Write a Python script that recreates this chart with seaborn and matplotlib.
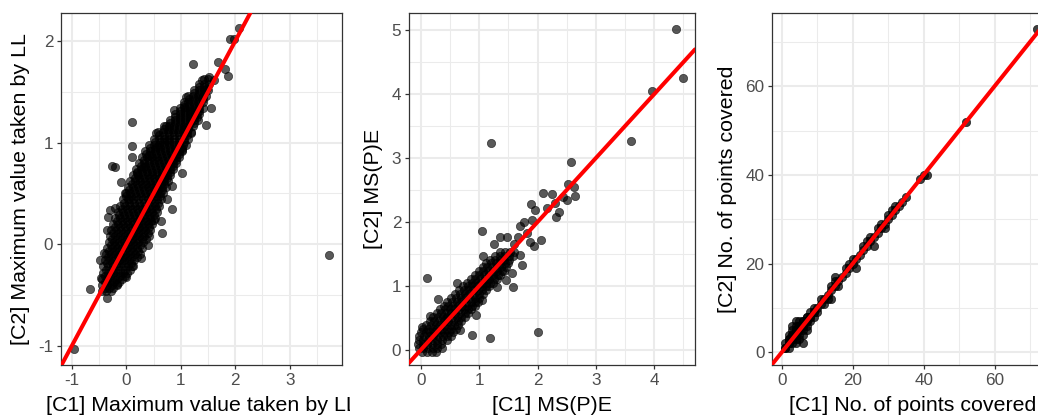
import matplotlib
matplotlib.use("Agg")
import matplotlib.pyplot as plt
import seaborn as sns
import pandas as pd
from matplotlib.transforms import Bbox, TransformedBbox

# ---------------- data ----------------
# Panel 1: maximum value taken by LL, C1 (x) vs C2 (y)
maxll_c1 = [
    # dense core, row by row
    -0.45, -0.37, -0.29,
    -0.45, -0.36, -0.27, -0.18,
    -0.44, -0.35, -0.26, -0.17, -0.08,
    -0.43, -0.34, -0.25, -0.16, -0.07, 0.02,
    -0.42, -0.33, -0.24, -0.15, -0.06, 0.03, 0.12,
    -0.40, -0.31, -0.22, -0.13, -0.04, 0.05, 0.14,
    -0.38, -0.29, -0.20, -0.11, -0.02, 0.07, 0.16, 0.25,
    -0.35, -0.26, -0.17, -0.08, 0.01, 0.10, 0.19, 0.28,
    -0.32, -0.23, -0.14, -0.05, 0.04, 0.13, 0.22, 0.31,
    -0.30, -0.21, -0.12, -0.03, 0.06, 0.15, 0.24, 0.33, 0.41,
    -0.28, -0.19, -0.10, -0.01, 0.08, 0.17, 0.26, 0.35, 0.44,
    -0.24, -0.15, -0.06, 0.03, 0.12, 0.21, 0.30, 0.39, 0.48,
    -0.20, -0.11, -0.02, 0.07, 0.16, 0.25, 0.34, 0.43, 0.52,
    -0.15, -0.06, 0.03, 0.12, 0.21, 0.30, 0.39, 0.48, 0.56,
    -0.11, -0.02, 0.07, 0.16, 0.25, 0.34, 0.43, 0.52, 0.60,
    -0.06, 0.03, 0.12, 0.21, 0.30, 0.39, 0.48, 0.57, 0.64,
    -0.02, 0.07, 0.16, 0.25, 0.34, 0.43, 0.52, 0.61, 0.68,
    0.03, 0.12, 0.21, 0.30, 0.39, 0.48, 0.57, 0.65, 0.72,
    0.07, 0.16, 0.25, 0.34, 0.43, 0.52, 0.61, 0.69, 0.76,
    0.12, 0.21, 0.30, 0.39, 0.48, 0.57, 0.66, 0.74, 0.80,
    0.18, 0.27, 0.36, 0.45, 0.54, 0.63, 0.72, 0.80, 0.86,
    0.24, 0.33, 0.42, 0.51, 0.60, 0.69, 0.78, 0.86, 0.92,
    0.29, 0.38, 0.47, 0.56, 0.65, 0.74, 0.83, 0.91, 0.97,
    0.35, 0.44, 0.53, 0.62, 0.71, 0.80, 0.89, 0.97, 1.03,
    0.42, 0.51, 0.60, 0.69, 0.78, 0.87, 0.96, 1.04, 1.09,
    0.51, 0.60, 0.69, 0.78, 0.87, 0.96, 1.05, 1.13,
    0.59, 0.68, 0.77, 0.86, 0.95, 1.04, 1.12, 1.19,
    0.69, 0.78, 0.87, 0.96, 1.05, 1.14, 1.22,
    0.80, 0.89, 0.98, 1.07, 1.16, 1.25, 1.32,
    0.89, 0.98, 1.07, 1.16, 1.25, 1.34,
    0.98, 1.07, 1.16, 1.25, 1.34, 1.41,
    1.05, 1.14, 1.23, 1.32, 1.41,
    1.14, 1.23, 1.32, 1.41, 1.47,
    1.24, 1.33, 1.42, 1.50,
    1.34, 1.43, 1.51,
    1.42, 1.50,
    # dense core, in-between rows
    -0.40, -0.32, -0.24,
    -0.40, -0.31, -0.22, -0.13,
    -0.39, -0.30, -0.21, -0.12, -0.03,
    -0.38, -0.29, -0.20, -0.11, -0.02, 0.07,
    -0.36, -0.27, -0.18, -0.09, 0.00, 0.09,
    -0.34, -0.25, -0.16, -0.07, 0.02, 0.11, 0.19,
    -0.32, -0.23, -0.14, -0.05, 0.04, 0.13, 0.22,
    -0.29, -0.20, -0.11, -0.02, 0.07, 0.16, 0.25,
    -0.26, -0.17, -0.08, 0.01, 0.10, 0.19, 0.28, 0.36,
    -0.24, -0.15, -0.06, 0.03, 0.12, 0.21, 0.30, 0.39,
    -0.21, -0.12, -0.03, 0.06, 0.15, 0.24, 0.33, 0.42,
    -0.17, -0.08, 0.01, 0.10, 0.19, 0.28, 0.37, 0.46,
    -0.13, -0.04, 0.05, 0.14, 0.23, 0.32, 0.41, 0.50,
    -0.08, 0.01, 0.10, 0.19, 0.28, 0.37, 0.46, 0.54,
    -0.04, 0.05, 0.14, 0.23, 0.32, 0.41, 0.50, 0.58,
    0.00, 0.09, 0.18, 0.27, 0.36, 0.45, 0.54, 0.62,
    0.05, 0.14, 0.23, 0.32, 0.41, 0.50, 0.59, 0.66,
    0.10, 0.19, 0.28, 0.37, 0.46, 0.55, 0.64, 0.70,
    0.15, 0.24, 0.33, 0.42, 0.51, 0.60, 0.69, 0.75,
    0.20, 0.29, 0.38, 0.47, 0.56, 0.65, 0.74, 0.80,
    0.26, 0.35, 0.44, 0.53, 0.62, 0.71, 0.80, 0.86,
    0.32, 0.41, 0.50, 0.59, 0.68, 0.77, 0.86, 0.91,
    0.37, 0.46, 0.55, 0.64, 0.73, 0.82, 0.91, 0.97,
    0.44, 0.53, 0.62, 0.71, 0.80, 0.89, 0.98, 1.03,
    0.52, 0.61, 0.70, 0.79, 0.88, 0.97, 1.06,
    0.60, 0.69, 0.78, 0.87, 0.96, 1.05, 1.12,
    0.69, 0.78, 0.87, 0.96, 1.05, 1.14,
    0.80, 0.89, 0.98, 1.07, 1.16, 1.24,
    0.89, 0.98, 1.07, 1.16, 1.25, 1.30,
    0.98, 1.07, 1.16, 1.25, 1.34,
    1.06, 1.15, 1.24, 1.33,
    1.15, 1.24, 1.33, 1.40,
    1.24, 1.33, 1.42,
    1.34, 1.43,
    # scattered points
    3.73, -0.96, -0.66, -0.35, -0.17, -0.47, -0.48, -0.41, -0.34, -0.35,
    -0.30, -0.20, -0.09, -0.01, -0.26, -0.21, 0.10, 0.11, 0.41, 0.54,
    0.72, 0.87, 1.05, 1.10, 1.23, 1.39, 1.47, 1.55, 1.68, 1.82,
    1.87, 1.91, 1.97, 2.07, 1.61, 1.52, 1.49, 1.39, 1.30, 1.18,
    1.03, 1.03, 0.84, 0.75, 0.64, 0.65, 0.83, 0.51, 0.39, 0.26,
    0.11, 0.00, 0.32, 0.20, 0.11, 0.05, 0.57, 0.75,
]
maxll_c2 = [
    -0.46, -0.46, -0.46,
    -0.40, -0.40, -0.40, -0.40,
    -0.34, -0.34, -0.34, -0.34, -0.34,
    -0.28, -0.28, -0.28, -0.28, -0.28, -0.28,
    -0.22, -0.22, -0.22, -0.22, -0.22, -0.22, -0.22,
    -0.16, -0.16, -0.16, -0.16, -0.16, -0.16, -0.16,
    -0.10, -0.10, -0.10, -0.10, -0.10, -0.10, -0.10, -0.10,
    -0.04, -0.04, -0.04, -0.04, -0.04, -0.04, -0.04, -0.04,
    0.02, 0.02, 0.02, 0.02, 0.02, 0.02, 0.02, 0.02,
    0.08, 0.08, 0.08, 0.08, 0.08, 0.08, 0.08, 0.08, 0.08,
    0.14, 0.14, 0.14, 0.14, 0.14, 0.14, 0.14, 0.14, 0.14,
    0.20, 0.20, 0.20, 0.20, 0.20, 0.20, 0.20, 0.20, 0.20,
    0.26, 0.26, 0.26, 0.26, 0.26, 0.26, 0.26, 0.26, 0.26,
    0.32, 0.32, 0.32, 0.32, 0.32, 0.32, 0.32, 0.32, 0.32,
    0.38, 0.38, 0.38, 0.38, 0.38, 0.38, 0.38, 0.38, 0.38,
    0.44, 0.44, 0.44, 0.44, 0.44, 0.44, 0.44, 0.44, 0.44,
    0.50, 0.50, 0.50, 0.50, 0.50, 0.50, 0.50, 0.50, 0.50,
    0.56, 0.56, 0.56, 0.56, 0.56, 0.56, 0.56, 0.56, 0.56,
    0.62, 0.62, 0.62, 0.62, 0.62, 0.62, 0.62, 0.62, 0.62,
    0.68, 0.68, 0.68, 0.68, 0.68, 0.68, 0.68, 0.68, 0.68,
    0.74, 0.74, 0.74, 0.74, 0.74, 0.74, 0.74, 0.74, 0.74,
    0.80, 0.80, 0.80, 0.80, 0.80, 0.80, 0.80, 0.80, 0.80,
    0.86, 0.86, 0.86, 0.86, 0.86, 0.86, 0.86, 0.86, 0.86,
    0.92, 0.92, 0.92, 0.92, 0.92, 0.92, 0.92, 0.92, 0.92,
    0.98, 0.98, 0.98, 0.98, 0.98, 0.98, 0.98, 0.98, 0.98,
    1.04, 1.04, 1.04, 1.04, 1.04, 1.04, 1.04, 1.04,
    1.10, 1.10, 1.10, 1.10, 1.10, 1.10, 1.10, 1.10,
    1.16, 1.16, 1.16, 1.16, 1.16, 1.16, 1.16,
    1.22, 1.22, 1.22, 1.22, 1.22, 1.22, 1.22,
    1.28, 1.28, 1.28, 1.28, 1.28, 1.28,
    1.34, 1.34, 1.34, 1.34, 1.34, 1.34,
    1.40, 1.40, 1.40, 1.40, 1.40,
    1.46, 1.46, 1.46, 1.46, 1.46,
    1.52, 1.52, 1.52, 1.52,
    1.58, 1.58, 1.58,
    1.63, 1.63,
    # in-between rows
    -0.43, -0.43, -0.43,
    -0.37, -0.37, -0.37, -0.37,
    -0.31, -0.31, -0.31, -0.31, -0.31,
    -0.25, -0.25, -0.25, -0.25, -0.25, -0.25,
    -0.19, -0.19, -0.19, -0.19, -0.19, -0.19,
    -0.13, -0.13, -0.13, -0.13, -0.13, -0.13, -0.13,
    -0.07, -0.07, -0.07, -0.07, -0.07, -0.07, -0.07,
    -0.01, -0.01, -0.01, -0.01, -0.01, -0.01, -0.01,
    0.05, 0.05, 0.05, 0.05, 0.05, 0.05, 0.05, 0.05,
    0.11, 0.11, 0.11, 0.11, 0.11, 0.11, 0.11, 0.11,
    0.17, 0.17, 0.17, 0.17, 0.17, 0.17, 0.17, 0.17,
    0.23, 0.23, 0.23, 0.23, 0.23, 0.23, 0.23, 0.23,
    0.29, 0.29, 0.29, 0.29, 0.29, 0.29, 0.29, 0.29,
    0.35, 0.35, 0.35, 0.35, 0.35, 0.35, 0.35, 0.35,
    0.41, 0.41, 0.41, 0.41, 0.41, 0.41, 0.41, 0.41,
    0.47, 0.47, 0.47, 0.47, 0.47, 0.47, 0.47, 0.47,
    0.53, 0.53, 0.53, 0.53, 0.53, 0.53, 0.53, 0.53,
    0.59, 0.59, 0.59, 0.59, 0.59, 0.59, 0.59, 0.59,
    0.65, 0.65, 0.65, 0.65, 0.65, 0.65, 0.65, 0.65,
    0.71, 0.71, 0.71, 0.71, 0.71, 0.71, 0.71, 0.71,
    0.77, 0.77, 0.77, 0.77, 0.77, 0.77, 0.77, 0.77,
    0.83, 0.83, 0.83, 0.83, 0.83, 0.83, 0.83, 0.83,
    0.89, 0.89, 0.89, 0.89, 0.89, 0.89, 0.89, 0.89,
    0.95, 0.95, 0.95, 0.95, 0.95, 0.95, 0.95, 0.95,
    1.01, 1.01, 1.01, 1.01, 1.01, 1.01, 1.01,
    1.07, 1.07, 1.07, 1.07, 1.07, 1.07, 1.07,
    1.13, 1.13, 1.13, 1.13, 1.13, 1.13,
    1.19, 1.19, 1.19, 1.19, 1.19, 1.19,
    1.25, 1.25, 1.25, 1.25, 1.25, 1.25,
    1.31, 1.31, 1.31, 1.31, 1.31,
    1.37, 1.37, 1.37, 1.37,
    1.43, 1.43, 1.43, 1.43,
    1.49, 1.49, 1.49,
    1.55, 1.55,
    # scattered points
    -0.11, -1.03, -0.44, -0.53, -0.39, -0.33, -0.16, -0.09, 0.27, 0.14,
    0.34, 0.36, 0.61, 0.50, 0.77, 0.76, 0.97, 1.20, 0.88, 1.09,
    1.16, 1.32, 1.35, 1.45, 1.77, 1.62, 1.17, 1.34, 1.79, 1.72,
    1.66, 2.02, 2.02, 2.13, 1.62, 1.65, 1.54, 1.44, 1.29, 1.09,
    0.93, 0.70, 0.57, 0.44, 0.23, 0.11, 0.35, 0.24, -0.01, -0.14,
    -0.22, -0.32, 0.76, 0.70, 0.86, 0.44, 0.96, 1.03,
]

# Panel 2: MS(P)E, C1 (x) vs C2 (y)
mspe_c1 = [
    0.02, 0.10, 0.18, 0.26,
    -0.04, 0.04, 0.12, 0.20, 0.28, 0.36,
    -0.05, 0.03, 0.11, 0.19, 0.27, 0.35,
    -0.04, 0.04, 0.12, 0.20, 0.28, 0.36, 0.44,
    -0.03, 0.05, 0.13, 0.21, 0.29, 0.37, 0.45, 0.52,
    0.00, 0.08, 0.16, 0.24, 0.32, 0.40, 0.48, 0.55,
    0.04, 0.12, 0.20, 0.28, 0.36, 0.44, 0.52, 0.60,
    0.09, 0.17, 0.25, 0.33, 0.41, 0.49, 0.57, 0.64,
    0.15, 0.23, 0.31, 0.39, 0.47, 0.55, 0.63, 0.69,
    0.21, 0.29, 0.37, 0.45, 0.53, 0.61, 0.69, 0.75,
    0.27, 0.35, 0.43, 0.51, 0.59, 0.67, 0.75, 0.80,
    0.33, 0.41, 0.49, 0.57, 0.65, 0.73, 0.81, 0.86,
    0.39, 0.47, 0.55, 0.63, 0.71, 0.79, 0.87, 0.92,
    0.45, 0.53, 0.61, 0.69, 0.77, 0.85, 0.93, 0.98,
    0.52, 0.60, 0.68, 0.76, 0.84, 0.92, 1.00,
    0.59, 0.67, 0.75, 0.83, 0.91, 0.99, 1.06,
    0.65, 0.73, 0.81, 0.89, 0.97, 1.05, 1.12,
    0.72, 0.80, 0.88, 0.96, 1.04, 1.12, 1.17,
    0.79, 0.87, 0.95, 1.03, 1.11, 1.19, 1.24,
    0.85, 0.93, 1.01, 1.09, 1.17, 1.25, 1.30,
    0.92, 1.00, 1.08, 1.16, 1.24, 1.32, 1.36,
    0.99, 1.07, 1.15, 1.23, 1.31, 1.39, 1.42,
    1.06, 1.14, 1.22, 1.30, 1.38, 1.46,
    1.12, 1.20, 1.28, 1.36, 1.44, 1.50,
    1.19, 1.27, 1.35, 1.43, 1.51,
    1.27, 1.35, 1.43, 1.51, 1.57,
    1.36, 1.44, 1.52, 1.59,
    # scattered points
    4.37, 4.49, 3.97, 3.60, 1.20, 2.57, 2.53, 2.62, 2.65, 2.51,
    2.37, 2.31, 2.24, 2.09, 2.16, 2.30, 2.44, 1.89, 1.96, 1.90,
    1.77, 2.05, 1.94, 1.87, 1.81, 1.69, 1.67, 1.05, 1.36, 1.47,
    1.25, 1.60, 1.73, 1.57, 1.30, 1.46, 1.56, 1.69, 0.95, 0.10,
    0.61, 0.88, 1.19, 2.00, 0.30, 0.15, 0.01, 1.04, 1.07, 0.67,
    0.44,
]
mspe_c2 = [
    -0.03, -0.03, -0.03, -0.03,
    0.03, 0.03, 0.03, 0.03, 0.03, 0.03,
    0.09, 0.09, 0.09, 0.09, 0.09, 0.09,
    0.15, 0.15, 0.15, 0.15, 0.15, 0.15, 0.15,
    0.21, 0.21, 0.21, 0.21, 0.21, 0.21, 0.21, 0.21,
    0.27, 0.27, 0.27, 0.27, 0.27, 0.27, 0.27, 0.27,
    0.33, 0.33, 0.33, 0.33, 0.33, 0.33, 0.33, 0.33,
    0.39, 0.39, 0.39, 0.39, 0.39, 0.39, 0.39, 0.39,
    0.45, 0.45, 0.45, 0.45, 0.45, 0.45, 0.45, 0.45,
    0.51, 0.51, 0.51, 0.51, 0.51, 0.51, 0.51, 0.51,
    0.57, 0.57, 0.57, 0.57, 0.57, 0.57, 0.57, 0.57,
    0.63, 0.63, 0.63, 0.63, 0.63, 0.63, 0.63, 0.63,
    0.69, 0.69, 0.69, 0.69, 0.69, 0.69, 0.69, 0.69,
    0.75, 0.75, 0.75, 0.75, 0.75, 0.75, 0.75, 0.75,
    0.81, 0.81, 0.81, 0.81, 0.81, 0.81, 0.81,
    0.87, 0.87, 0.87, 0.87, 0.87, 0.87, 0.87,
    0.93, 0.93, 0.93, 0.93, 0.93, 0.93, 0.93,
    0.99, 0.99, 0.99, 0.99, 0.99, 0.99, 0.99,
    1.05, 1.05, 1.05, 1.05, 1.05, 1.05, 1.05,
    1.11, 1.11, 1.11, 1.11, 1.11, 1.11, 1.11,
    1.17, 1.17, 1.17, 1.17, 1.17, 1.17, 1.17,
    1.23, 1.23, 1.23, 1.23, 1.23, 1.23, 1.23,
    1.29, 1.29, 1.29, 1.29, 1.29, 1.29,
    1.35, 1.35, 1.35, 1.35, 1.35, 1.35,
    1.41, 1.41, 1.41, 1.41, 1.41,
    1.47, 1.47, 1.47, 1.47, 1.47,
    1.53, 1.53, 1.53, 1.53,
    # scattered points
    5.02, 4.26, 4.05, 3.27, 3.23, 2.93, 2.60, 2.55, 2.41, 2.34,
    2.15, 2.08, 2.44, 2.45, 2.21, 2.29, 2.39, 2.28, 2.19, 2.03,
    2.00, 1.71, 1.63, 1.69, 1.82, 1.94, 1.77, 1.86, 1.76, 1.76,
    1.66, 1.65, 1.33, 0.98, 0.98, 1.09, 1.20, 1.48, 0.54, 1.12,
    1.05, 0.23, 0.18, 0.28, 0.79, 0.52, 0.36, 0.78, 1.46, 0.31,
    0.49,
]

# Panel 3: number of points covered, C1 (x) vs C2 (y) (integer counts, with ties)
npts_c1 = [1, 1, 2, 2, 2, 3, 3, 3, 4, 4, 4, 5, 5, 5, 6, 6, 6, 7, 7, 7,
           8, 8, 8, 9, 9, 9, 10, 10, 3, 4, 5, 6, 2, 4, 7, 3, 4, 5, 6,
           1, 2, 2, 3, 3, 4, 4, 5, 5, 6, 6, 7, 7, 8, 9,
           11, 11, 12, 12, 13, 13, 14, 14, 15, 15, 16, 16, 17, 14, 15,
           18, 18, 19, 19, 20, 20, 21, 21, 22, 23, 23, 24, 24, 25, 25,
           26, 26, 27, 27, 28, 28, 29, 29, 30, 30, 31, 31, 32, 32, 33,
           34, 35, 39, 40, 41, 52, 72]
npts_c2 = [1, 2, 1, 2, 3, 2, 3, 4, 3, 4, 5, 4, 5, 6, 5, 6, 7, 6, 7, 8,
           7, 8, 9, 8, 9, 10, 9, 10, 5, 6, 3, 4, 4, 2, 5, 6, 7, 7, 2,
           1, 2, 3, 3, 4, 4, 5, 5, 6, 6, 7, 7, 8, 8, 9,
           11, 12, 11, 12, 13, 12, 14, 15, 15, 16, 16, 15, 17, 12, 17,
           18, 19, 19, 20, 20, 21, 21, 19, 22, 23, 24, 24, 25, 25, 26,
           26, 24, 27, 28, 28, 29, 29, 28, 30, 31, 31, 32, 32, 33, 33,
           34, 35, 39, 40, 40, 52, 73]

labels = [
    ("[C1] Maximum value taken by LL", "[C2] Maximum value taken by LL"),
    ("[C1] MS(P)E", "[C2] MS(P)E"),
    ("[C1] No. of points covered", "[C2] No. of points covered"),
]

# ---------------- figure ----------------
sns.set_theme(style="white")
plt.rcParams["font.family"] = ["Liberation Sans", "DejaVu Sans"]

W, H = 1038, 417
fig = plt.figure(figsize=(W / 100, H / 100), dpi=100)


def add_ax(left, right, top=13, bottom=365):
    return fig.add_axes([left / W, (H - bottom) / H, (right - left) / W, (bottom - top) / H])


ax1 = add_ax(61, 342)
ax2 = add_ax(409, 695)
ax3 = add_ax(772.3, 1053.5)

panels = [
    (ax1, maxll_c1, maxll_c2, (-1.2, 3.96), (-1.19, 2.276),
     [-1, 0, 1, 2, 3], [-0.5, 0.5, 1.5, 2.5, 3.5], [-1, 0, 1, 2], [-0.5, 0.5, 1.5], 0.65),
    (ax2, mspe_c1, mspe_c2, (-0.206, 4.70), (-0.24, 5.27),
     [0, 1, 2, 3, 4], [0.5, 1.5, 2.5, 3.5, 4.5], [0, 1, 2, 3, 4, 5], [0.5, 1.5, 2.5, 3.5, 4.5], 0.65),
    (ax3, npts_c1, npts_c2, (-2.65, 76.6), (-2.85, 76.5),
     [0, 20, 40, 60], [10, 30, 50, 70], [0, 20, 40, 60], [10, 30, 50, 70], 0.75),
]

for i, (ax, xs, ys, xl, yl, xmaj, xmin, ymaj, ymin, alpha) in enumerate(panels):
    df = pd.DataFrame({"c1": xs, "c2": ys})
    sns.scatterplot(data=df, x="c1", y="c2", ax=ax, color="black", alpha=alpha,
                    s=36, edgecolor="black", linewidth=0.5, zorder=2)
    ax.axline((0, 0), slope=1, color="#FF0000", lw=2.9, zorder=3)
    ax.set_xlim(*xl)
    ax.set_ylim(*yl)
    ax.set_xticks(xmaj)
    ax.set_xticks(xmin, minor=True)
    ax.set_yticks(ymaj)
    ax.set_yticks(ymin, minor=True)
    ax.set_xticklabels([str(v) for v in xmaj])
    ax.set_yticklabels([str(v) for v in ymaj])
    ax.grid(which="major", color="#EBEBEB", lw=1.5, zorder=0)
    ax.grid(which="minor", color="#EBEBEB", lw=0.75, zorder=0)
    ax.set_axisbelow(True)
    ax.set_facecolor("white")
    for sp in ax.spines.values():
        sp.set_color("#333333")
        sp.set_linewidth(0.9)
        sp.set_visible(True)
    ax.tick_params(which="major", length=2.6, width=0.9, color="#333333",
                   labelcolor="#4D4D4D", labelsize=12.3, pad=3,
                   bottom=True, left=True)
    ax.tick_params(which="minor", length=0, bottom=False, left=False)
    ax.set_xlabel(labels[i][0], fontsize=15.4, color="black", labelpad=6)
    ax.set_ylabel(labels[i][1], fontsize=15.4, color="black", labelpad=6)

# the first panel's x title is cut off at its cell edge
lab = ax1.xaxis.label
lab.set_clip_box(TransformedBbox(Bbox.from_extents(0, 0, 350 / W, 1), fig.transFigure))
lab.set_clip_on(True)

fig.savefig("out.png", dpi=100)
